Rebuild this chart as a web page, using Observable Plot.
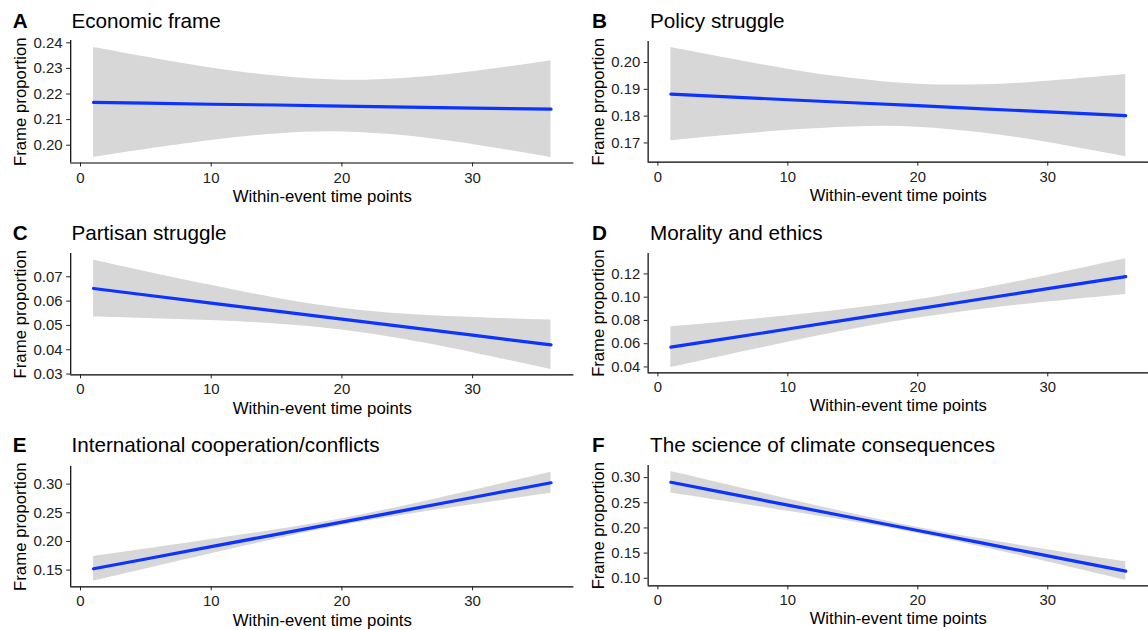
<!DOCTYPE html>
<html><head><meta charset="utf-8">
<script src="https://cdn.jsdelivr.net/npm/d3@7"></script>
<script src="https://cdn.jsdelivr.net/npm/@observablehq/plot@0.6"></script>
<style>
html,body{margin:0;padding:0;background:#fff;overflow:hidden;width:1148px;height:630px;}
#root{position:relative;width:1148px;height:630px;overflow:hidden;font-family:"Liberation Sans",Arial,sans-serif;}
.panel{position:absolute;}
.ttl{position:absolute;white-space:nowrap;line-height:1;color:#000;font-family:"Liberation Sans",Arial,sans-serif;}
</style></head><body><div id="root"></div>
<script>
// ---------- data ----------
const timePoints = [1, 5, 10, 15, 20, 25, 30, 36];
const xTicks = [0, 10, 20, 30];
const panelLetters = ["A", "B", "C", "D", "E", "F"];
const panelTitles = ["Economic frame", "Policy struggle", "Partisan struggle",
  "Morality and ethics", "International cooperation/conflicts", "The science of climate consequences"];
const xLabel = "Within-event time points";
const yLabel = "Frame proportion";

// A Economic frame
const economicFit   = [0.2167, 0.2164, 0.2160, 0.2157, 0.2153, 0.2149, 0.2145, 0.2141];
const economicLower = [0.1952, 0.1983, 0.2018, 0.2044, 0.2052, 0.2036, 0.2003, 0.1952];
const economicUpper = [0.2382, 0.2345, 0.2302, 0.2270, 0.2254, 0.2262, 0.2287, 0.2330];
const economicTicks = [0.20, 0.21, 0.22, 0.23, 0.24];
// B Policy struggle
const policyFit   = [0.1882, 0.1873, 0.1861, 0.1850, 0.1839, 0.1827, 0.1816, 0.1802];
const policyLower = [0.1708, 0.1727, 0.1747, 0.1760, 0.1759, 0.1737, 0.1702, 0.1649];
const policyUpper = [0.2056, 0.2019, 0.1975, 0.1940, 0.1919, 0.1917, 0.1930, 0.1955];
const policyTicks = [0.17, 0.18, 0.19, 0.20];
// C Partisan struggle
const partisanFit   = [0.0652, 0.0625, 0.0592, 0.0559, 0.0526, 0.0493, 0.0460, 0.0420];
const partisanLower = [0.0535, 0.0529, 0.0520, 0.0506, 0.0481, 0.0440, 0.0388, 0.0319];
const partisanUpper = [0.0769, 0.0721, 0.0665, 0.0612, 0.0571, 0.0546, 0.0533, 0.0522];
const partisanTicks = [0.03, 0.04, 0.05, 0.06, 0.07];
// D Morality and ethics
const moralityFit   = [0.0570, 0.0639, 0.0726, 0.0813, 0.0899, 0.0986, 0.1073, 0.1177];
const moralityLower = [0.0395, 0.0493, 0.0612, 0.0724, 0.0820, 0.0897, 0.0959, 0.1024];
const moralityUpper = [0.0745, 0.0785, 0.0840, 0.0902, 0.0978, 0.1075, 0.1187, 0.1330];
const moralityTicks = [0.04, 0.06, 0.08, 0.10, 0.12];
// E International cooperation/conflicts
const internationalFit   = [0.1523, 0.1694, 0.1909, 0.2123, 0.2337, 0.2551, 0.2766, 0.3023];
const internationalLower = [0.1308, 0.1520, 0.1785, 0.2042, 0.2277, 0.2470, 0.2642, 0.2839];
const internationalUpper = [0.1738, 0.1868, 0.2033, 0.2204, 0.2397, 0.2632, 0.2890, 0.3207];
const internationalTicks = [0.15, 0.20, 0.25, 0.30];
// F The science of climate consequences
const scienceFit   = [0.2908, 0.2706, 0.2454, 0.2202, 0.1950, 0.1698, 0.1446, 0.1143];
const scienceLower = [0.2695, 0.2534, 0.2331, 0.2122, 0.1890, 0.1618, 0.1323, 0.0959];
const scienceUpper = [0.3121, 0.2878, 0.2577, 0.2282, 0.2010, 0.1778, 0.1569, 0.1327];
const scienceTicks = [0.10, 0.15, 0.20, 0.25, 0.30];

// ---------- layout ----------
const series = [
  {fit: economicFit, lower: economicLower, upper: economicUpper, ticks: economicTicks},
  {fit: policyFit, lower: policyLower, upper: policyUpper, ticks: policyTicks},
  {fit: partisanFit, lower: partisanLower, upper: partisanUpper, ticks: partisanTicks},
  {fit: moralityFit, lower: moralityLower, upper: moralityUpper, ticks: moralityTicks},
  {fit: internationalFit, lower: internationalLower, upper: internationalUpper, ticks: internationalTicks},
  {fit: scienceFit, lower: scienceLower, upper: scienceUpper, ticks: scienceTicks}
];
const layout = [
  {col: 0, row: 0, top: 40.0, bottom: 162.5, yDomain: [0.19305, 0.2409]},
  {col: 1, row: 0, top: 40.7, bottom: 162.7, yDomain: [0.16284, 0.20786]},
  {col: 0, row: 1, top: 252.7, bottom: 374.0, yDomain: [0.0297, 0.07958]},
  {col: 1, row: 1, top: 253.3, bottom: 374.0, yDomain: [0.0349, 0.1376]},
  {col: 0, row: 2, top: 465.7, bottom: 586.0, yDomain: [0.1209, 0.3307]},
  {col: 1, row: 2, top: 465.0, bottom: 586.7, yDomain: [0.0849, 0.3242]}
];
const cols = [
  {left: 0, width: 574, frameLeft: 70.2, frameRight: 573.4, letterX: 12.8, titleX: 71.4},
  {left: 574, width: 580, frameLeft: 648.4, frameRight: 1154, letterX: 592, titleX: 650}
];
const titleBaselines = [29, 241, 453];
const FONT = '"Liberation Sans", Arial, sans-serif';
const root = document.getElementById("root");

layout.forEach((L, i) => {
  const c = cols[L.col];
  const S = series[i];
  const mt = 6, mb = 48;
  const ml = c.frameLeft - c.left;
  const mr = c.left + c.width - c.frameRight;
  const h = (L.bottom - L.top) + mt + mb;
  const rows = timePoints.map((x, j) => ({x, fit: S.fit[j], lo: S.lower[j], hi: S.upper[j]}));
  const chart = Plot.plot({
    width: c.width, height: h,
    marginTop: mt, marginBottom: mb, marginLeft: ml, marginRight: mr,
    style: {fontFamily: FONT, background: "transparent", overflow: "visible"},
    x: {domain: [-0.75, 37.75]},
    y: {domain: L.yDomain},
    marks: [
      Plot.areaY(rows, {x: "x", y1: "lo", y2: "hi", fill: "#d7d7d7", curve: "natural"}),
      Plot.lineY(rows, {x: "x", y: "fit", stroke: "#0d33ff", strokeWidth: 3.2}),
      Plot.ruleX([-0.75], {stroke: "#000", strokeWidth: 1.2}),
      Plot.ruleY([L.yDomain[0]], {stroke: "#000", strokeWidth: 1.2}),
      Plot.axisX({ticks: xTicks, tickSize: 4, tickPadding: 5, fontSize: 15, color: "#222", label: null, tickFormat: d => String(d)}),
      Plot.axisY({ticks: S.ticks, tickSize: 4, tickPadding: 4, fontSize: 15, color: "#222", label: null, tickFormat: d3.format(".2f")}),
      Plot.text([xLabel], {text: d => d, frameAnchor: "bottom", dy: 39, fontSize: 16.8, lineAnchor: "bottom", textAnchor: "middle", fill: "#000"}),
      Plot.text([yLabel], {text: d => d, frameAnchor: "left", dx: -57, rotate: -90, lineAnchor: "top", textAnchor: "middle", fontSize: 16.8, fill: "#000"})
    ]
  });
  const wrap = document.createElement("div");
  wrap.className = "panel";
  wrap.style.left = c.left + "px";
  wrap.style.top = (L.top - mt) + "px";
  wrap.appendChild(chart);
  root.appendChild(wrap);

  const fs = 20.7;
  const base = titleBaselines[L.row];
  const letter = document.createElement("div");
  letter.className = "ttl";
  letter.style.fontSize = fs + "px";
  letter.style.fontWeight = "bold";
  letter.style.left = c.letterX + "px";
  letter.style.top = (base - 0.8465 * fs) + "px";
  letter.textContent = panelLetters[i];
  root.appendChild(letter);
  const title = document.createElement("div");
  title.className = "ttl";
  title.style.fontSize = fs + "px";
  title.style.left = c.titleX + "px";
  title.style.top = (base - 0.8465 * fs) + "px";
  title.textContent = panelTitles[i];
  root.appendChild(title);
});
</script>
</body></html>
